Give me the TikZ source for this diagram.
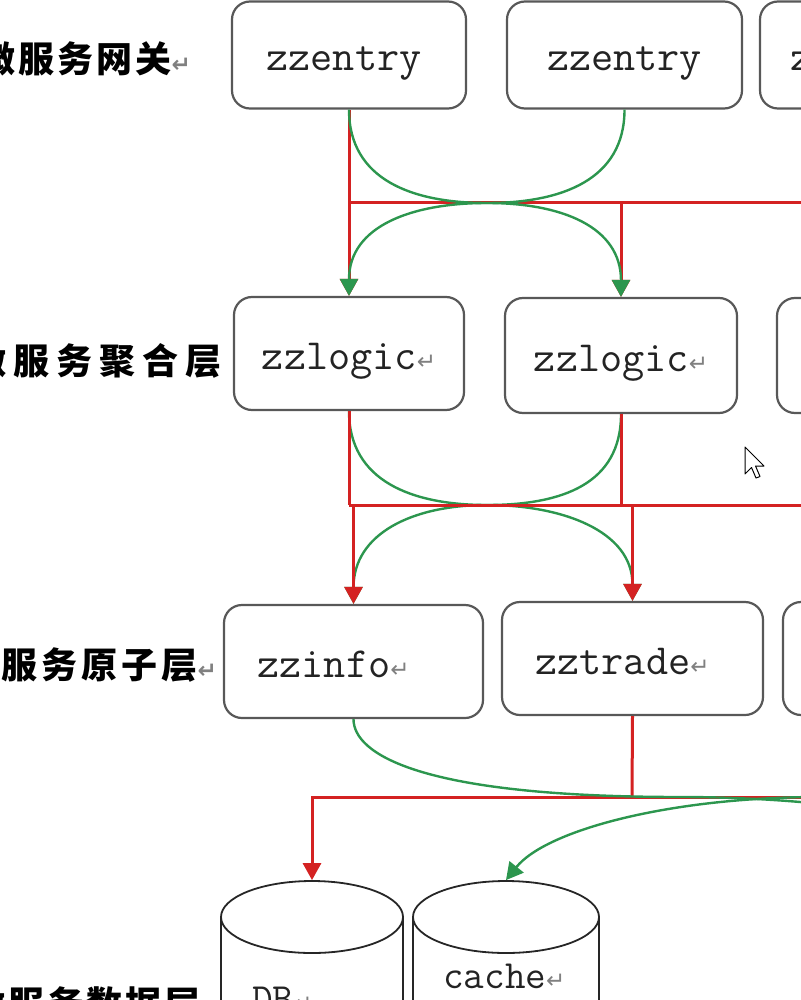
\documentclass[tikz,border=0pt]{standalone}
\usepackage{fontspec}
\usetikzlibrary{arrows.meta,calc,shapes.geometric}
\newfontfamily\cjk{Noto Sans CJK SC}
\newfontfamily\symf{DejaVu Sans}
\definecolor{redl}{RGB}{212,34,34}
\definecolor{greenl}{RGB}{44,150,78}
\definecolor{boxc}{RGB}{88,88,88}
\definecolor{txtc}{RGB}{35,35,35}
\newcommand\retmark{{\symf\fontsize{23}{23}\selectfont\color{gray}↵}}
\begin{document}
\begin{tikzpicture}[x=1pt,y=-1pt,
  >={Triangle[width=18pt,length=17pt]},
  svcbox/.style={draw=boxc,line width=2.2pt,rounded corners=18pt,fill=white,inner sep=0pt,
    text=txtc,font=\ttfamily\fontsize{43}{43}\selectfont,text height=32pt,text depth=0pt},
  redline/.style={draw=redl,line width=3pt},
  greenline/.style={draw=greenl,line width=2.4pt},
  layerlab/.style={anchor=west,inner sep=0pt,text=black,font=\cjk\bfseries\fontsize{36}{36}\selectfont},
  cylcap/.style={draw=black!85,line width=1.8pt,ellipse,inner sep=0pt,minimum height=72pt},
  cylside/.style={draw=black!85,line width=1.8pt},
  storetext/.style={anchor=base west,inner sep=0pt,text=txtc,font=\ttfamily\fontsize{40}{40}\selectfont}]
\useasboundingbox (0,0) rectangle (800,1000);

% layer labels
\node[layerlab] (lab1) at (-20.5,59) {\addfontfeatures{LetterSpace=8.3}微服务网关\retmark};
\node[layerlab] (lab2) at (-29.5,361) {\addfontfeatures{LetterSpace=19.4}微服务聚合层};
\node[layerlab] (lab3) at (-38.5,665) {\addfontfeatures{LetterSpace=11.1}微服务原子层\retmark};
\node[layerlab] (lab4) at (-30.5,1004) {\addfontfeatures{LetterSpace=8.3}微服务数据层\retmark};

% gateway boxes
\node[svcbox,minimum width=234pt,minimum height=107pt] (e1) at (349,55) {\hspace*{-10pt}zzentry};
\node[svcbox,minimum width=235pt,minimum height=107pt] (e2) at (624.5,55) {zzentry};
\node[svcbox,minimum width=235pt,minimum height=107pt] (e3) at (877.5,55) {\hspace*{-20pt}zzentry};

% logic boxes
\node[svcbox,minimum width=230pt,minimum height=113pt] (l1) at (349,353.5) {zzlogic\retmark};
\node[svcbox,minimum width=232pt,minimum height=115pt] (l2) at (621,355.5) {zzlogic\retmark};
\node[svcbox,minimum width=232pt,minimum height=115pt] (l3) at (893,355.5) {};

% atomic boxes
\node[svcbox,minimum width=259pt,minimum height=113pt] (i1) at (353.5,661.5) {\hspace*{-40pt}zzinfo\retmark};
\node[svcbox,minimum width=261pt,minimum height=113pt] (t1) at (632.5,658.5) {\hspace*{-20pt}zztrade\retmark};
\node[svcbox,minimum width=261pt,minimum height=113pt] (a3) at (913.5,658.5) {};

% stores
\draw[cylside] (221,917) -- (221,1010);
\draw[cylside] (403,917) -- (403,1010);
\node[cylcap,fill=white,minimum width=182pt] (db) at (312,917) {};
\draw[cylside] (413,917) -- (413,1010);
\draw[cylside] (599,917) -- (599,1010);
\node[cylcap,fill=white,minimum width=186pt] (cache) at (506,917) {};
\node[storetext] (dbt) at (252,1011) {DB\retmark};
\node[storetext] (cachet) at (443,988) {cache\retmark};
\coordinate (st3) at (1000,881);

% gateway -> logic
\coordinate (b1) at (349,203);
\coordinate (m1) at (487,203);
\draw[redline,->] (e1.south) -- (l1.north);
\draw[redline,->] (b1) -| (l2.north);
\draw[redline,->] (b1) -| (l3.north);
\draw[greenline,->] (e1.south) .. controls +(0,70) and +(-75,0) .. (m1) .. controls +(75,0) and +(0,-70) .. (l2.north);
\draw[greenline,->] (e2.south) .. controls +(0,70) and +(75,0) .. (m1) .. controls +(-75,0) and +(0,-70) .. (l1.north);

% logic -> atomic
\coordinate (b2) at (349,505);
\coordinate (m2) at (487,505);
\draw[greenline,->] (l1.south) .. controls +(0,70) and +(-75,0) .. (m2) .. controls +(75,0) and +(0,-70) .. (t1.north);
\draw[greenline,->] (l2.south) .. controls +(0,70) and +(75,0) .. (m2) .. controls +(-75,0) and +(0,-70) .. (i1.north);
\draw[redline] (l1.south) -- (b2);
\draw[redline,->] (b2) -| (a3.north);
\draw[redline] (l2.south) -- (l2.south |- b2);
\draw[redline,->] (i1.north |- b2) -- (i1.north);
\draw[redline,->] (t1.north |- b2) -- (t1.north);

% atomic -> stores
\coordinate (b3) at (632,797);
\coordinate (m3a) at (680,797);
\coordinate (m3b) at (820,797);
\draw[redline] (t1.south) -- (b3);
\draw[redline,->] (b3) -| (db.north);
\draw[redline,->] (b3) -| (st3);
\draw[greenline,->] (i1.south) .. controls +(0,35) and +(-260,0) .. (m3a) .. controls +(150,0) and +(0,-60) .. (st3);
\draw[greenline,->] (a3.south) .. controls +(0,60) and +(100,0) .. (m3b) .. controls +(-150,0) and +(40,-50) .. (cache.north);

% mouse pointer
\draw[black,line width=1pt,fill=white,line join=round]
  (745,447) -- (745,474) -- (751.5,467.5) -- (756,478) -- (760,476.5) -- (755.5,466) -- (764,466) -- cycle;
\end{tikzpicture}
\end{document}
